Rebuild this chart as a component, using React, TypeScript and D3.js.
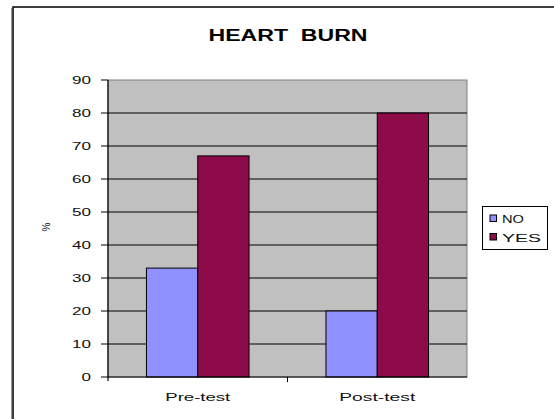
import * as d3 from 'd3'

const categories = ['Pre-test', 'Post-test']
const seriesNames = ['NO', 'YES']
const noValues = [33, 20]
const yesValues = [67, 80]
const yTicks = [0, 10, 20, 30, 40, 50, 60, 70, 80, 90]

const W = 554
const H = 419
const plot = { left: 108, right: 467, top: 80, bottom: 377 }
const colors: Record<string, string> = { NO: '#9090ff', YES: '#8e0b4a' }
const font = '"Liberation Sans", Arial, sans-serif'

// the original export is stretched sideways, so text widths are pinned
const xLabelWidths: Record<string, number> = { 'Pre-test': 65, 'Post-test': 76 }
const legendWidths: Record<string, number> = { NO: 22, YES: 39 }

export default function App() {
  const x = d3.scaleBand<string>().domain(categories).range([plot.left, plot.right])
  const xs = d3
    .scaleBand<string>()
    .domain(seriesNames)
    .range([0, x.bandwidth()])
    .paddingInner(0)
    .paddingOuter(0.75)
  const y = d3.scaleLinear().domain([0, 90]).range([plot.bottom, plot.top])

  const values: Record<string, number[]> = { NO: noValues, YES: yesValues }

  return (
    <div style={{ position: 'fixed', left: 0, top: 0 }}>
      <svg width={W} height={H} style={{ display: 'block', background: '#fff' }} fontFamily={font}>
        {/* chart frame, runs off the right/bottom edge */}
        <rect x={13} y={7} width={W + 20} height={H + 20} fill="#fff" stroke="#000" strokeWidth={1.5} />
        <line x1={11.5} x2={11.5} y1={8} y2={H} stroke="#999" strokeWidth={1} />

        <text
          x={288}
          y={41}
          textAnchor="middle"
          fontSize={16}
          fontWeight="bold"
          textLength={159}
          lengthAdjust="spacingAndGlyphs"
          style={{ whiteSpace: 'pre' }}
        >
          {'HEART  BURN'}
        </text>

        {/* plot area */}
        <rect
          x={plot.left}
          y={plot.top}
          width={plot.right - plot.left}
          height={plot.bottom - plot.top}
          fill="#c0c0c0"
          stroke="#808080"
          strokeWidth={1}
        />

        {yTicks.slice(1, -1).map((t) => (
          <line key={t} x1={plot.left} x2={plot.right} y1={y(t)} y2={y(t)} stroke="#000" strokeWidth={1} />
        ))}

        {/* bars */}
        {seriesNames.map((s) =>
          categories.map((c, i) => {
            const v = values[s][i]
            return (
              <rect
                key={s + c}
                x={(x(c) ?? 0) + (xs(s) ?? 0)}
                y={y(v)}
                width={xs.bandwidth()}
                height={y(0) - y(v)}
                fill={colors[s]}
                stroke="#000"
                strokeWidth={1}
              />
            )
          })
        )}

        {/* y axis */}
        <line x1={plot.left} x2={plot.left} y1={plot.top} y2={plot.bottom + 4} stroke="#000" strokeWidth={1.2} />
        {yTicks.map((t) => (
          <g key={t}>
            <line x1={plot.left - 7} x2={plot.left} y1={y(t)} y2={y(t)} stroke="#000" strokeWidth={1} />
            <text
              x={91}
              y={y(t) + 4}
              textAnchor="end"
              fontSize={11}
              fill="#111"
              textLength={String(t).length * 9.5}
              lengthAdjust="spacingAndGlyphs"
            >
              {t}
            </text>
          </g>
        ))}
        <text
          transform={`translate(50,227) rotate(-90)`}
          textAnchor="middle"
          fontSize={10}
          fill="#111"
        >
          %
        </text>

        {/* x axis */}
        <line x1={plot.left} x2={plot.right} y1={plot.bottom} y2={plot.bottom} stroke="#000" strokeWidth={1.2} />
        {categories.slice(1).map((c) => (
          <line key={c} x1={x(c)} x2={x(c)} y1={plot.bottom} y2={plot.bottom + 5} stroke="#000" strokeWidth={1} />
        ))}
        {categories.map((c) => (
          <text
            key={c}
            x={(x(c) ?? 0) + x.bandwidth() / 2}
            y={401}
            textAnchor="middle"
            fontSize={11}
            fill="#111"
            textLength={xLabelWidths[c]}
            lengthAdjust="spacingAndGlyphs"
          >
            {c}
          </text>
        ))}

        {/* legend */}
        <rect x={482.5} y={206.5} width={65} height={43} fill="#fff" stroke="#000" strokeWidth={1} />
        {seriesNames.map((s, i) => (
          <g key={s} transform={`translate(490,${215 + i * 18.5})`}>
            <rect x={0} y={0} width={6.5} height={6.5} fill={colors[s]} stroke="#000" strokeWidth={1} />
            <text
              x={12}
              y={8}
              fontSize={11.5}
              fill="#111"
              textLength={legendWidths[s]}
              lengthAdjust="spacingAndGlyphs"
            >
              {s}
            </text>
          </g>
        ))}
      </svg>
    </div>
  )
}
